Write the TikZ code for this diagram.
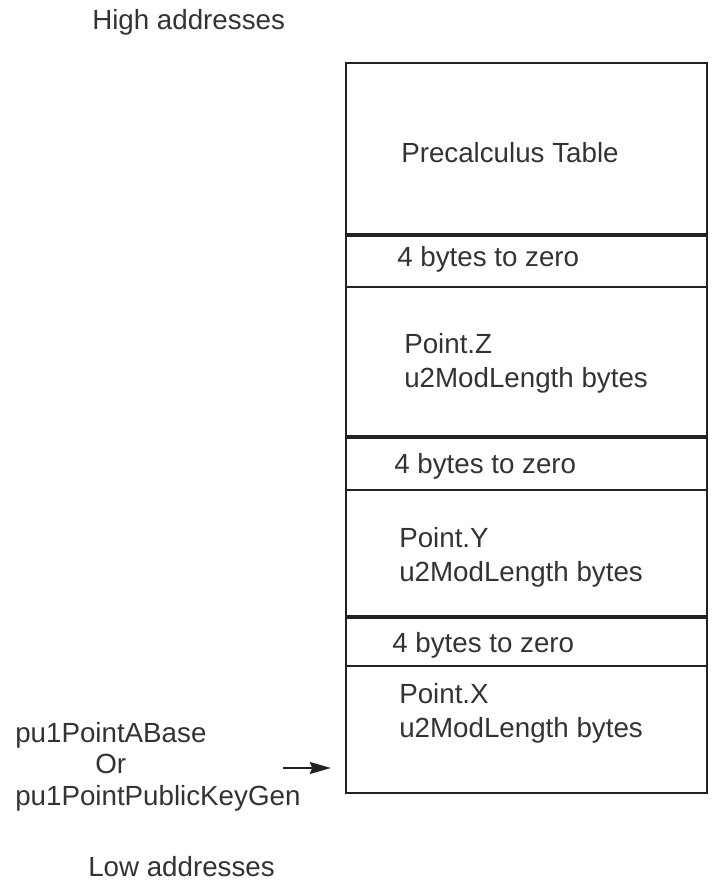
\documentclass[tikz,border=0pt]{standalone}
\usepackage{fontspec}
\setmainfont{Liberation Sans}
\usetikzlibrary{arrows.meta,positioning}
\definecolor{txt}{HTML}{333333}
\definecolor{rule}{HTML}{222222}

\begin{document}
\begin{tikzpicture}[
  x=0.75pt, y=-0.75pt,
  >=Stealth,
  lbl/.style={font=\fontsize{20.8}{25}\selectfont, text=txt, inner sep=0pt, anchor=base west, align=left},
  frame/.style={draw=rule, line width=1.6pt},
  thinrule/.style={draw=rule, line width=1.4pt},
  thickrule/.style={draw=rule, line width=3pt},
  ptr/.style={-{Stealth[length=16pt, width=9pt, inset=2pt]}, line width=1.1pt, color=rule},
]
\useasboundingbox (0,0) rectangle (711,888);

% memory block
\draw[frame] (346,63) rectangle (707,793);
\draw[thickrule] (346,235) -- (707,235);
\draw[thinrule] (346,287) -- (707,287);
\draw[thickrule] (346,437) -- (707,437);
\draw[thinrule] (346,490) -- (707,490);
\draw[thickrule] (346,617) -- (707,617);
\draw[thinrule] (346,666) -- (707,666);

% base anchor sits on the last line
\node[lbl] (table) at (401,162) {Precalculus Table};
\node[lbl] (zeroZ) at (397,266) {4 bytes to zero};
\node[lbl] (pointZ) at (404,387) {Point.Z\\u2ModLength bytes};
\node[lbl] (zeroY) at (394,473) {4 bytes to zero};
\node[lbl] (pointY) at (399,581) {Point.Y\\u2ModLength bytes};
\node[lbl] (zeroX) at (392,652) {4 bytes to zero};
\node[lbl] (pointX) at (399,737) {Point.X\\u2ModLength bytes};

% addresses
\node[lbl] (high) at (92,30) {High addresses};
\node[lbl] (low) at (88,876) {Low addresses};

% base pointer
\node[lbl] (base) at (15,742) {pu1PointABase};
\node[lbl] (orword) at (95,773) {Or};
\node[lbl] (keygen) at (15,805) {pu1PointPublicKeyGen};
\coordinate (ptrtail) at (283,768);
\coordinate (ptrtip) at (331,768);
\draw[ptr] (ptrtail) -- (ptrtip);

\end{tikzpicture}
\end{document}
